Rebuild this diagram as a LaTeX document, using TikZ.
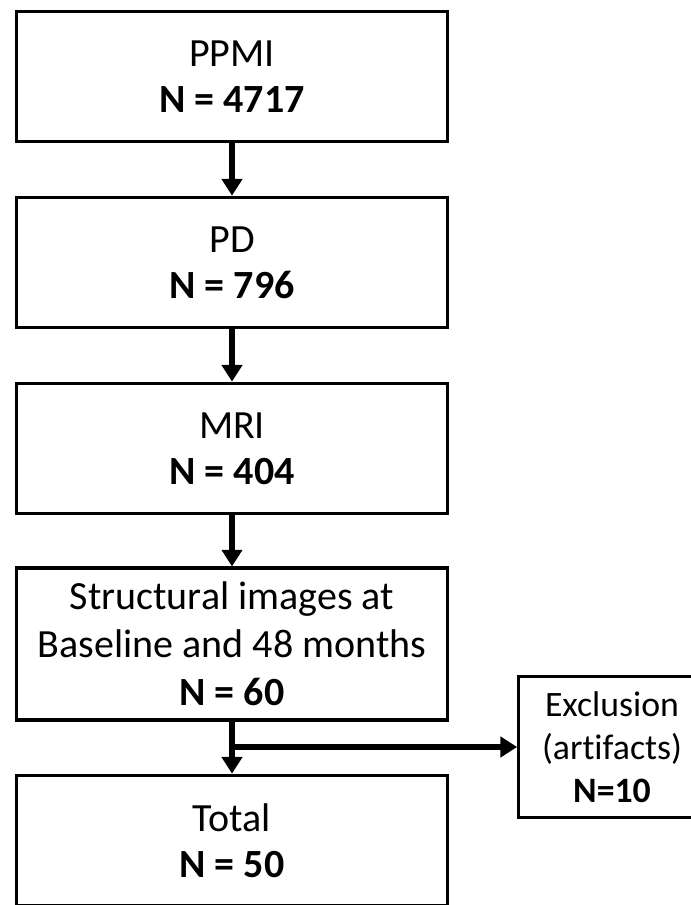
\documentclass[tikz,border=0pt]{standalone}
\usepackage{fontspec}
\setmainfont[Ligatures={NoCommon}]{Carlito}
\usepackage{tikz}
\usetikzlibrary{arrows.meta}
\usetikzlibrary{positioning}
\tikzset{
	stagebox/.style={draw=black, line width=2.3pt, rectangle, align=center,
		minimum width=323pt, minimum height=98pt, inner sep=0pt,
		font=\fontsize{30}{34.5}\selectfont},
	tallbox/.style={stagebox, minimum height=114pt, font=\fontsize{30}{36}\selectfont},
	exclbox/.style={draw=black, line width=2.3pt, rectangle, align=center,
		minimum width=140pt, minimum height=106pt, inner sep=0pt,
		font=\fontsize{26.8}{32.3}\selectfont},
	line/.style={draw, line width=4.5pt, -{Triangle[length=12.5pt, width=15pt]}},
}

\begin{document}
\begin{tikzpicture}[x=0.75pt, y=-0.75pt]
	\useasboundingbox (0,0) rectangle (691,905);
	\node[stagebox] (ppmi) at (232,76.5) {PPMI\\\textbf{N = 4717}};
	\node[stagebox] (pd) at (232,262.5) {PD\\\textbf{N = 796}};
	\node[stagebox] (mri) at (232,448.5) {MRI\\\textbf{N = 404}};
	\node[tallbox] (struct) at (232,644) {Structural images at\\Baseline and 48 months\\\textbf{N = 60}};
	\node[stagebox] (total) at (232,840.5) {Total\\\textbf{N = 50}};
	\node[exclbox] (excl) at (612,747) {Exclusion\\(artifacts)\\\textbf{N=10}};
	% flow
	\draw[line] (ppmi) -- (pd);
	\draw[line] (pd) -- (mri);
	\draw[line] (mri) -- (struct);
	\draw[line] (struct) -- (total);
	\draw[line] (struct.south |- excl.west) -- (excl.west);
\end{tikzpicture}
\end{document}
